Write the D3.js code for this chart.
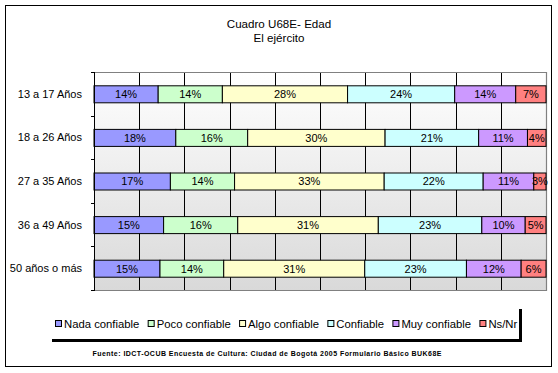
<!DOCTYPE html>
<html><head><meta charset="utf-8">
<script src="https://cdn.jsdelivr.net/npm/d3@7"></script>
<style>body{margin:0;background:#fff}svg{display:block;font-family:"Liberation Sans",Arial,sans-serif}</style>
</head><body><svg id="c" width="558" height="373"></svg>
<script>
const categories = ["13 a 17 Años","18 a 26 Años","27 a 35 Años","36 a 49 Años","50 años o más"];
const seriesNames = ["Nada confiable","Poco confiable","Algo confiable","Confiable","Muy confiable","Ns/Nr"];
const nadaConfiable = [14.2,18.1,16.9,15.4,14.6];
const pocoConfiable = [14.2,15.9,14.2,16.4,14.1];
const algoConfiable = [27.7,30.4,33.1,31.1,31.2];
const confiable = [23.7,20.7,21.9,22.9,22.5];
const muyConfiable = [13.5,10.8,11.2,9.6,12.1];
const nsNr = [6.7,4.1,2.7,4.6,5.5];
const seriesColors = ["#9999FF","#CCFFCC","#FFFFCC","#CCFFFF","#CC99FF","#FF8080"];
const xTicks = [0,10,20,30,40,50,60,70,80,90,100];
const titleLines = ["Cuadro U68E- Edad","El ejército"];
const sourceText = "Fuente: IDCT-OCUB Encuesta de Cultura: Ciudad de Bogotá 2005 Formulario Básico BUK68E";

const seriesValues = [nadaConfiable,pocoConfiable,algoConfiable,confiable,muyConfiable,nsNr];
const rows = categories.map((c,i)=>{const o={cat:c}; seriesNames.forEach((s,j)=>o[s]=seriesValues[j][i]); return o;});
const stack = d3.stack().keys(seriesNames)(rows);

const svg = d3.select("#c");
svg.append("rect").attr("x",5.5).attr("y",5.5).attr("width",546).attr("height",361).attr("fill","#fff").attr("stroke","#000");

// title
svg.append("g").selectAll("text").data(titleLines).join("text")
  .attr("x",279).attr("y",(d,i)=>28+i*13.5).attr("text-anchor","middle")
  .attr("font-size","11.6px").attr("fill","#000").text(d=>d);

const pl=94, pr=546, pt=72, pb=290;
const x = d3.scaleLinear().domain([0,100]).range([pl,pr]);
const y = d3.scaleBand().domain(categories).range([pt,pb]).paddingInner(0.61).paddingOuter(0.305);

const defs = svg.append("defs");
const grad = defs.append("linearGradient").attr("id","bg").attr("x1",0).attr("y1",0).attr("x2",0).attr("y2",1);
grad.append("stop").attr("offset","0%").attr("stop-color","#ffffff");
grad.append("stop").attr("offset","100%").attr("stop-color","#d9d9d9");
svg.append("rect").attr("x",pl).attr("y",pt).attr("width",pr-pl).attr("height",pb-pt).attr("fill","url(#bg)");

// gridlines
svg.append("g").selectAll("line").data(xTicks.slice(1,-1)).join("line")
  .attr("x1",d=>Math.round(x(d))+0.5).attr("x2",d=>Math.round(x(d))+0.5)
  .attr("y1",pt).attr("y2",pb).attr("stroke","#000").attr("stroke-width",1);

// plot border (gray)
svg.append("path").attr("d",`M${pl},${pt+0.5}H${pr+0.5}V${pb+0.5}H${pl}`).attr("fill","none").attr("stroke","#808080").attr("stroke-width",1.2);

// bars
const g = svg.append("g");
stack.forEach((layer,j)=>{
  g.append("g").selectAll("rect").data(layer).join("rect")
    .attr("x",d=>x(d[0])).attr("y",(d,i)=>y(categories[i])+0.5)
    .attr("width",d=>x(d[1])-x(d[0])).attr("height",y.bandwidth())
    .attr("fill",seriesColors[j]).attr("stroke","#000").attr("stroke-width",1);
});
stack.forEach((layer,j)=>{
  g.append("g").selectAll("text").data(layer).join("text")
    .attr("x",d=>(x(d[0])+x(d[1]))/2).attr("y",(d,i)=>y(categories[i])+y.bandwidth()/2+0.5)
    .attr("dy","0.36em").attr("text-anchor","middle").attr("font-size","11px").attr("fill","#000")
    .text(d=>Math.round(d[1]-d[0])+"%");
});

// y axis
svg.append("line").attr("x1",pl+0.5).attr("x2",pl+0.5).attr("y1",pt).attr("y2",pb+1).attr("stroke","#000");
const bounds = categories.map(c=>y(c)-y.step()*y.paddingInner()/2).concat([pb]);
svg.append("g").selectAll("line").data(bounds).join("line")
  .attr("x1",pl-3).attr("x2",pl).attr("y1",d=>Math.round(d)+0.5).attr("y2",d=>Math.round(d)+0.5).attr("stroke","#000");
svg.append("g").selectAll("text").data(categories).join("text")
  .attr("x",82).attr("y",d=>y(d)+y.bandwidth()/2).attr("dy","0.36em").attr("text-anchor","end")
  .attr("font-size","11px").attr("fill","#000").text(d=>d);

// legend
const lx=49, ly=306, lw=470, lh=33;
svg.append("rect").attr("x",lx+3).attr("y",ly+3).attr("width",lw).attr("height",lh).attr("fill","#000");
svg.append("rect").attr("x",lx).attr("y",ly).attr("width",lw).attr("height",lh).attr("fill","#fff");
const lg = svg.append("g");
let cx = 55;
seriesNames.forEach((s,j)=>{
  lg.append("rect").attr("x",cx+0.5).attr("y",320.5).attr("width",6).attr("height",6)
    .attr("fill",seriesColors[j]).attr("stroke","#000");
  const t = lg.append("text").attr("x",cx+9).attr("y",328).attr("font-size","11.3px").attr("fill","#000").text(s);
  cx += 9 + t.node().getComputedTextLength() + 8.3;
});

// source
svg.append("text").attr("x",267).attr("y",356).attr("text-anchor","middle")
  .attr("font-size","7px").attr("font-weight","bold").attr("fill","#000")
  .attr("textLength",349).attr("lengthAdjust","spacing").text(sourceText);
</script></body></html>
